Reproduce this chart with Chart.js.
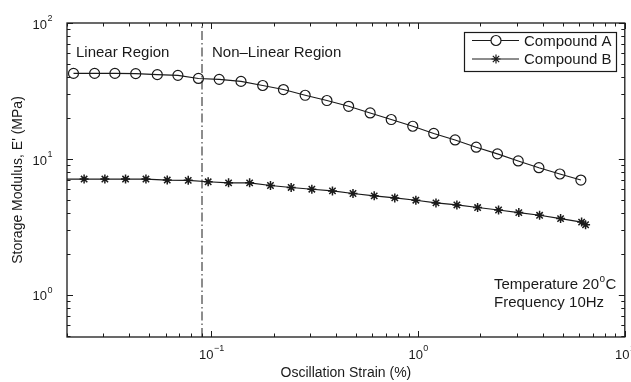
<!DOCTYPE html>
<html>
<head>
<meta charset="utf-8">
<script src="https://cdn.jsdelivr.net/npm/chart.js@4/dist/chart.umd.min.js"></script>
<style>
  html, body { margin: 0; padding: 0; background: #fff; }
  #wrap { width: 631px; height: 382px; }
</style>
</head>
<body>
<div id="wrap"><canvas id="modulusChart" width="631" height="382"></canvas></div>
<script>
// strain (%) and storage modulus E' (MPa)
const strainA = [0.0215, 0.0272, 0.0341, 0.043, 0.0547, 0.0688, 0.0865, 0.109, 0.139, 0.177, 0.223, 0.284,
    0.362, 0.461, 0.586, 0.741, 0.942, 1.19, 1.51, 1.91, 2.42, 3.05, 3.84, 4.85, 6.13];
const modulusA = [42.6, 42.6, 42.6, 42.4, 41.7, 41.2, 39.1, 38.5, 37.2, 34.7, 32.4, 29.4,
    26.9, 24.4, 21.8, 19.5, 17.4, 15.4, 13.8, 12.2, 10.9, 9.67, 8.62, 7.75, 6.99];

const strainB = [0.0192, 0.0242, 0.0305, 0.0384, 0.0482, 0.0611, 0.0772, 0.0964, 0.121, 0.153, 0.193, 0.243, 0.306,
    0.385, 0.484, 0.613, 0.771, 0.975, 1.22, 1.54, 1.94, 2.45, 3.07, 3.87, 4.89, 6.18, 6.46];
const modulusB = [7.11, 7.11, 7.11, 7.11, 7.11, 6.99, 6.96, 6.79, 6.67, 6.67, 6.38, 6.17, 5.99,
    5.82, 5.57, 5.35, 5.17, 4.97, 4.75, 4.59, 4.39, 4.21, 4.03, 3.85, 3.64, 3.43, 3.28];

// boundary between linear and non-linear region
const limitStrain = 0.09;

const xMin = 0.02, xMax = 10;
const yMin = 0.49, yMax = 100;
const xDecades = [-1, 0, 1];
const yDecades = [0, 1, 2];

const ink = '#1a1a1a';
const font = '"Liberation Sans", Arial, Helvetica, sans-serif';

function toPoints(xs, ys) {
    return xs.map((x, i) => ({ x: x, y: ys[i] }));
}

function drawPow(ctx, exp, x, y, align) {
    // "10" with a superscript exponent
    ctx.font = '13px ' + font;
    const base = '10';
    const bw = ctx.measureText(base).width;
    ctx.font = '9px ' + font;
    const ew = ctx.measureText(String(exp)).width;
    let left;
    if (align === 'right') left = x - bw - ew;
    else left = x - (bw + ew) / 2;
    ctx.textAlign = 'left';
    ctx.textBaseline = 'middle';
    ctx.font = '13px ' + font;
    ctx.fillText(base, left, y);
    ctx.font = '9px ' + font;
    ctx.fillText(String(exp), left + bw + 0.5, y - 6);
}

const framePlugin = {
    id: 'frame',
    afterDraw(chart) {
        const ctx = chart.ctx;
        const a = chart.chartArea;
        const xs = chart.scales.x, ys = chart.scales.y;
        ctx.save();
        ctx.strokeStyle = ink;
        ctx.fillStyle = ink;

        // axis box
        ctx.lineWidth = 1.3;
        ctx.strokeRect(a.left, a.top, a.right - a.left, a.bottom - a.top);

        // log ticks, pointing inward on all four sides
        ctx.lineWidth = 1;
        ctx.beginPath();
        for (let d = -2; d <= 1; d++) {
            for (let k = 1; k <= 9; k++) {
                const v = k * Math.pow(10, d);
                if (v < xMin || v > xMax) continue;
                const px = Math.round(xs.getPixelForValue(v)) + 0.5;
                const len = k === 1 ? 6 : 3.5;
                ctx.moveTo(px, a.bottom); ctx.lineTo(px, a.bottom - len);
                ctx.moveTo(px, a.top); ctx.lineTo(px, a.top + len);
            }
        }
        for (let d = -1; d <= 2; d++) {
            for (let k = 1; k <= 9; k++) {
                const v = k * Math.pow(10, d);
                if (v < yMin || v > yMax) continue;
                const py = Math.round(ys.getPixelForValue(v)) + 0.5;
                const len = k === 1 ? 6 : 3.5;
                ctx.moveTo(a.left, py); ctx.lineTo(a.left + len, py);
                ctx.moveTo(a.right, py); ctx.lineTo(a.right - len, py);
            }
        }
        ctx.stroke();

        // tick labels
        xDecades.forEach(e => {
            const px = xs.getPixelForValue(Math.pow(10, e));
            drawPow(ctx, e === -1 ? '\u22121' : e, px, a.bottom + 18, 'center');
        });
        yDecades.forEach(e => {
            const py = ys.getPixelForValue(Math.pow(10, e));
            drawPow(ctx, e, a.left - 15, py + 2, 'right');
        });

        // axis titles
        ctx.font = '14px ' + font;
        ctx.textAlign = 'center';
        ctx.textBaseline = 'middle';
        ctx.fillText('Oscillation Strain (%)', (a.left + a.right) / 2, 373);
        ctx.save();
        ctx.translate(18, 180);
        ctx.rotate(-Math.PI / 2);
        ctx.fillText('Storage Modulus, E\' (MPa)', 0, 0);
        ctx.restore();

        // region labels
        ctx.font = '15px ' + font;
        ctx.textAlign = 'left';
        ctx.fillText('Linear Region', 76, 53);
        ctx.fillText('Non\u2013Linear Region', 212, 53);

        // test conditions
        ctx.fillText('Temperature 20', 494, 285);
        const tw = ctx.measureText('Temperature 20').width;
        ctx.font = '10px ' + font;
        ctx.fillText('o', 494 + tw + 0.5, 279);
        const ow = ctx.measureText('o').width;
        ctx.font = '15px ' + font;
        ctx.fillText('C', 494 + tw + ow + 1, 285);
        ctx.fillText('Frequency 10Hz', 494, 303);

        // legend box
        const lx = 464, ly = 32, lw = 152, lh = 39;
        ctx.fillStyle = '#fff';
        ctx.fillRect(lx, ly, lw, lh);
        ctx.lineWidth = 1.2;
        ctx.strokeRect(lx + 0.5, ly + 0.5, lw, lh);
        ctx.fillStyle = ink;
        const rows = [
            { label: 'Compound A', y: ly + 8.5, style: 'circle', r: 5 },
            { label: 'Compound B', y: ly + 27, style: 'star', r: 4.5 }
        ];
        rows.forEach(row => {
            ctx.lineWidth = 1;
            ctx.beginPath();
            ctx.moveTo(lx + 8, row.y);
            ctx.lineTo(lx + 55, row.y);
            ctx.stroke();
            ctx.lineWidth = 1.2;
            if (row.style === 'circle') {
                ctx.fillStyle = '#fff';
                ctx.beginPath();
                ctx.arc(lx + 32, row.y, row.r, 0, Math.PI * 2);
                ctx.fill();
                ctx.stroke();
            } else {
                Chart.helpers.drawPoint(ctx, { pointStyle: 'star', radius: row.r, borderWidth: 1.5 }, lx + 32, row.y);
            }
            ctx.fillStyle = ink;
            ctx.font = '15px ' + font;
            ctx.textAlign = 'left';
            ctx.textBaseline = 'middle';
            ctx.fillText(row.label, lx + 60, row.y + 1);
        });
        ctx.restore();
    }
};

const ctx = document.getElementById('modulusChart').getContext('2d');

const chart = new Chart(ctx, {
    type: 'scatter',
    data: {
        datasets: [
            {
                label: 'Compound A',
                data: toPoints(strainA, modulusA),
                showLine: true,
                borderColor: ink,
                borderWidth: 1.1,
                pointStyle: 'circle',
                pointRadius: 5,
                pointBorderWidth: 1.2,
                pointBorderColor: ink,
                pointBackgroundColor: 'rgba(255,255,255,0)'
            },
            {
                label: 'Compound B',
                data: toPoints(strainB, modulusB),
                showLine: true,
                borderColor: ink,
                borderWidth: 1.1,
                pointStyle: 'star',
                pointRadius: c => (c.raw && c.raw.x < xMin) ? 0 : 4.5,
                pointBorderWidth: 1.5,
                pointBorderColor: ink,
                pointBackgroundColor: ink
            },
            {
                label: 'limit',
                data: toPoints([limitStrain, limitStrain], [yMin, yMax]),
                showLine: true,
                borderColor: ink,
                borderWidth: 1,
                borderDash: [9, 3, 1.5, 3],
                pointRadius: 0
            }
        ]
    },
    options: {
        responsive: false,
        animation: false,
        layout: { padding: { left: 67, right: 5, top: 23, bottom: 45 } },
        plugins: {
            legend: { display: false },
            tooltip: { enabled: false }
        },
        scales: {
            x: { type: 'logarithmic', min: xMin, max: xMax, display: false },
            y: { type: 'logarithmic', min: yMin, max: yMax, display: false }
        }
    },
    plugins: [framePlugin]
});
</script>
</body>
</html>
